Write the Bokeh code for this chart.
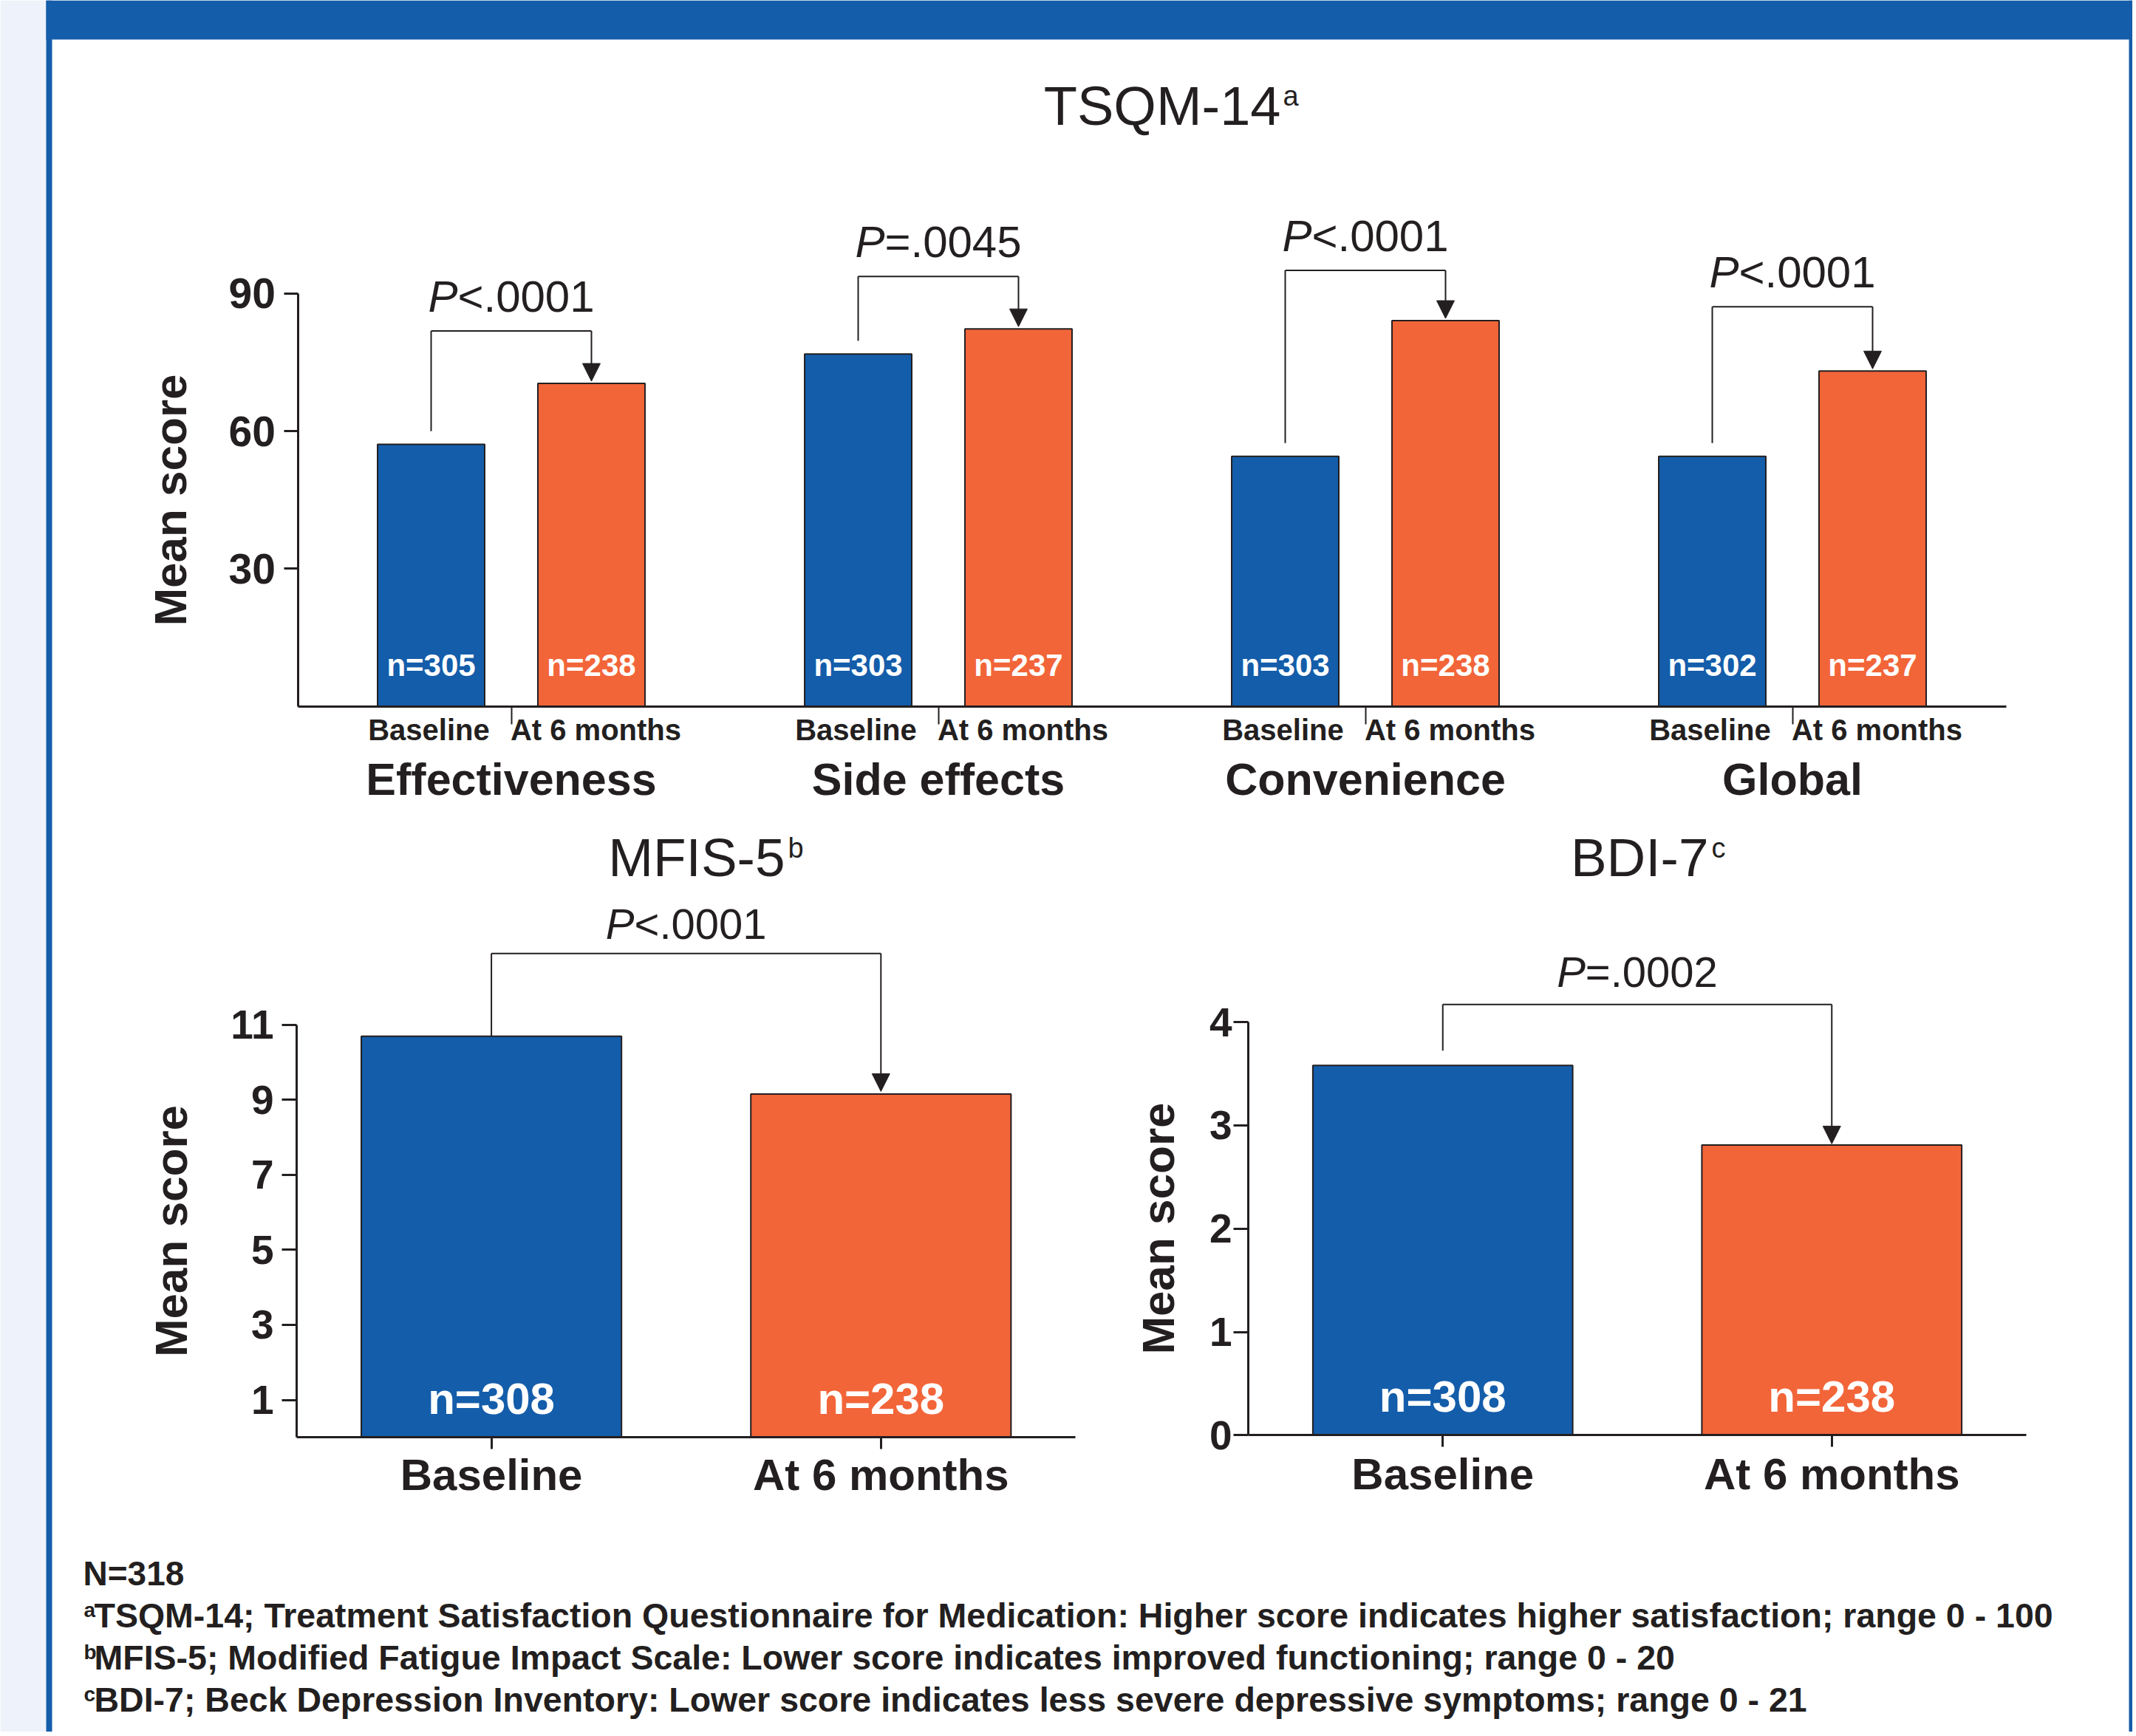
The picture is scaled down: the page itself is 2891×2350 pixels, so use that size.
from bokeh.plotting import figure
from bokeh.models import (ColumnDataSource, LabelSet, Arrow, NormalHead,
                          FixedTicker, Range1d, LinearAxis, BoxAnnotation)
from bokeh.embed import file_html
from bokeh.resources import INLINE
from bokeh.core.properties import value

# ---------------- data ----------------
timepoints = ["Baseline", "At 6 months"]
y_axis_label = "Mean score"

tsqm_title = "TSQM-14"
tsqm_sup = "a"
tsqm_domains = ["Effectiveness", "Side effects", "Convenience", "Global"]
tsqm_baseline = [57.1, 76.8, 54.5, 54.5]
tsqm_6months = [70.4, 82.3, 84.1, 73.1]
tsqm_n_baseline = ["n=305", "n=303", "n=303", "n=302"]
tsqm_n_6months = ["n=238", "n=237", "n=238", "n=237"]
tsqm_p = ["<.0001", "=.0045", "<.0001", "<.0001"]
tsqm_yticks = [30, 60, 90]

mfis_title = "MFIS-5"
mfis_sup = "b"
mfis_values = [10.69, 9.15]
mfis_n = ["n=308", "n=238"]
mfis_p = "<.0001"
mfis_yticks = [1, 3, 5, 7, 9, 11]

bdi_title = "BDI-7"
bdi_sup = "c"
bdi_values = [3.58, 2.81]
bdi_n = ["n=308", "n=238"]
bdi_p = "=.0002"
bdi_yticks = [0, 1, 2, 3, 4]

footnote_total = "N=318"
footnote_marks = ["a", "b", "c"]
footnote_texts = [
    "TSQM-14; Treatment Satisfaction Questionnaire for Medication: Higher score indicates higher satisfaction; range 0 - 100",
    "MFIS-5; Modified Fatigue Impact Scale: Lower score indicates improved functioning; range 0 - 20",
    "BDI-7; Beck Depression Inventory: Lower score indicates less severe depressive symptoms; range 0 - 21",
]

# ---------------- style ----------------
BLUE = "#145DAA"
ORANGE = "#F26539"
INK = "#231F20"
LIGHT = "#EEF2FA"
WHITE = "#FFFFFF"
FONT = "Liberation Sans"

W, H = 2886, 2344   # page canvas in pixels


class Chart:
    """A sub-chart: its own x/y ranges placed on the page canvas."""
    def __init__(self, name, xd0, xp0, xppu, yd0, yp0, yppu):
        self.name = name
        self.xppu, self.yppu = xppu, yppu
        self.xs = xd0 - xp0 / xppu
        self.ys = yd0 - (H - yp0) / yppu
        self.xr = Range1d(self.xs, self.xs + W / xppu)
        self.yr = Range1d(self.ys, self.ys + H / yppu)

    def dx(self, d):
        return d / self.xppu

    def dy(self, d):
        return d / self.yppu

    @property
    def kw(self):
        return dict(x_range_name=self.name, y_range_name=self.name)


def py(ref_y):          # page pixel (from top) -> default y range
    return H - ref_y


c1 = Chart("tsqm", -0.5, 402.5, 578.0, 0, 955.6, 6.208)
c2 = Chart("mfis", 0, 401, 527.2, 0, 1945.3, 50.8)
c3 = Chart("bdi", 0, 1689, 526.5, 0, 1942.4, 139.85)

p = figure(width=W, height=H, x_range=Range1d(0, W), y_range=Range1d(0, H),
           x_axis_type=None, y_axis_type=None, min_border=0,
           output_backend="svg", toolbar_location=None, tools="")
p.extra_x_ranges = {c.name: c.xr for c in (c1, c2, c3)}
p.extra_y_ranges = {c.name: c.yr for c in (c1, c2, c3)}
p.outline_line_color = None
p.background_fill_color = WHITE
p.border_fill_color = WHITE

# ---------------- page decoration ----------------
for l, r, b, t, col in [(0, 62, 0, H, LIGHT), (62, 70, 0, H, BLUE),
                        (62, W, py(53), H, BLUE), (W - 5, W, 0, H, BLUE)]:
    p.add_layout(BoxAnnotation(left=l, right=r, bottom=b, top=t, fill_color=col,
                               fill_alpha=1, line_color=None, level="underlay"))


# ---------------- helpers ----------------
def style_axis(ax, tick_out, font_size, standoff, line=True, ticks=True, tick_width=3):
    ax.axis_line_color = INK if line else None
    ax.axis_line_width = 3
    ax.major_tick_line_color = INK if ticks else None
    ax.major_tick_line_width = tick_width
    ax.major_tick_out = tick_out if ticks else 0
    ax.major_tick_in = 0
    ax.minor_tick_line_color = None
    ax.major_label_text_font = FONT
    ax.major_label_text_font_size = font_size
    ax.major_label_text_font_style = "bold"
    ax.major_label_text_color = INK
    ax.major_label_standoff = standoff


def y_axis(c, loc, bounds, ticks, tick_out, size, standoff, label_standoff):
    ax = LinearAxis(fixed_location=loc, bounds=bounds, ticker=FixedTicker(ticks=ticks), **c.kw)
    style_axis(ax, tick_out, size, standoff)
    ax.axis_label = y_axis_label
    ax.axis_label_text_font = FONT
    ax.axis_label_text_font_size = "62px"
    ax.axis_label_text_font_style = "bold"
    ax.axis_label_text_color = INK
    ax.axis_label_standoff = label_standoff
    p.add_layout(ax, "left")


def x_axis(c, ticks, labels, tick_out, size, standoff, bounds="auto", line=True,
           tick_marks=True, tick_width=3):
    ax = LinearAxis(fixed_location=0, bounds=bounds, ticker=FixedTicker(ticks=ticks), **c.kw)
    style_axis(ax, tick_out, size, standoff, line=line, ticks=tick_marks, tick_width=tick_width)
    ax.major_label_overrides = {t: s for t, s in zip(ticks, labels)}
    p.add_layout(ax, "below")


def add_labels(c, xs, ys, texts, size, color=INK, style="bold", align="center"):
    src = ColumnDataSource(dict(x=list(xs), y=list(ys), text=list(texts)))
    kw = c.kw if c is not None else {}
    p.add_layout(LabelSet(x="x", y="y", text="text", source=src,
                          text_font=value(FONT), text_font_size=value(size),
                          text_font_style=value(style), text_color=value(color),
                          text_align=value(align), text_baseline=value("alphabetic"),
                          **kw))


def add_page_label(x, y, text, size, style="normal", align="left"):
    add_labels(None, [x], [py(y)], [text], size, style=style, align=align)


def add_brackets(c, xl, xr, y_start, y_top, y_tip, head=24):
    legs = ColumnDataSource(dict(
        x0=list(xl) + list(xl), y0=list(y_start) + list(y_top),
        x1=list(xl) + list(xr), y1=list(y_top) + list(y_top)))
    p.add_layout(Arrow(end=None, x_start="x0", y_start="y0", x_end="x1", y_end="y1",
                       source=legs, line_color=INK, line_width=2, **c.kw))
    downs = ColumnDataSource(dict(x0=list(xr), y0=list(y_top), x1=list(xr), y1=list(y_tip)))
    p.add_layout(Arrow(end=NormalHead(size=head, fill_color=INK, line_color=INK, line_width=1),
                       x_start="x0", y_start="y0", x_end="x1", y_end="y1",
                       source=downs, line_color=INK, line_width=2, **c.kw))


def add_p_labels(c, xc, ys, rests, size_px):
    # italic "P" followed by upright remainder; the pair is centred on xc
    shift = c.dx(1.2095 * size_px)
    xj = [x - shift for x in xc]
    add_labels(c, xj, ys, ["P"] * len(xj), f"{size_px}px", style="italic", align="right")
    add_labels(c, xj, ys, rests, f"{size_px}px", style="normal", align="left")


# ---------------- TSQM-14 ----------------
gx = list(range(len(tsqm_domains)))
off, bw = 0.1877, 0.2508
xb = [g - off for g in gx]
xa = [g + off for g in gx]
p.vbar(x=xb, top=tsqm_baseline, width=bw, bottom=0, fill_color=BLUE,
       line_color=INK, line_width=2, **c1.kw)
p.vbar(x=xa, top=tsqm_6months, width=bw, bottom=0, fill_color=ORANGE,
       line_color=INK, line_width=2, **c1.kw)

y_axis(c1, -0.5, (0, 90), tsqm_yticks, 19, "57px", 11, 42)
x_axis(c1, gx, tsqm_domains, 24, "61px", 41, bounds=(-0.5, 3.5), tick_width=2)
# sub-labels sit a few pixels off the bar centres, as in the original
lab_x = [x - c1.dx(3) for x in xb] + [x + c1.dx(6) for x in xa]
x_axis(c1, lab_x, [timepoints[0]] * len(xb) + [timepoints[1]] * len(xa),
       0, "40px", 10, line=False, tick_marks=False)

add_labels(c1, xb + xa, [c1.dy(41.6)] * (len(xb) + len(xa)),
           tsqm_n_baseline + tsqm_n_6months, "42px", color=WHITE)

tsqm_rise_px = [71, 71, 68, 87]
tops = [max(b, a) + c1.dy(r) for b, a, r in zip(tsqm_baseline, tsqm_6months, tsqm_rise_px)]
add_brackets(c1, xb, xa, [b + c1.dy(18) for b in tsqm_baseline], tops,
             [a + c1.dy(3) for a in tsqm_6months])
add_p_labels(c1, gx, [t + c1.dy(26) for t in tops], tsqm_p, 60)

add_page_label(1733, 168, tsqm_title, "74px", align="right")
add_page_label(1736, 142, tsqm_sup, "38px")

# ---------------- MFIS-5 and BDI-7 ----------------
xs2 = [0.5, 1.5]
bar_w2 = 0.668


def small_chart(c, values, yticks, ns, ptxt, title, sup, title_right, tick_standoff,
                lbl_standoff, x_standoff, start_px, rise_px, tip_px, p_gap):
    p.vbar(x=xs2, top=values, width=bar_w2, bottom=0, fill_color=[BLUE, ORANGE],
           line_color=INK, line_width=2, **c.kw)
    y_axis(c, 0, (0, yticks[-1]), yticks, 20, "55px", tick_standoff, lbl_standoff)
    x_axis(c, xs2, timepoints, 16, "60px", x_standoff, bounds=(0, 2))
    add_labels(c, xs2, [c.dy(32)] * 2, ns, "60px", color=WHITE)
    top = max(values) + c.dy(rise_px)
    add_brackets(c, [xs2[0]], [xs2[1]], [values[0] + c.dy(start_px)], [top],
                 [values[1] + c.dy(tip_px)])
    add_p_labels(c, [sum(xs2) / 2], [top + c.dy(p_gap)], [ptxt], 58)
    add_page_label(title_right, 1185, title, "73px", align="right")
    add_page_label(title_right + 4, 1160, sup, "38px")


small_chart(c2, mfis_values, mfis_yticks, mfis_n, mfis_p, mfis_title, mfis_sup, 1062,
            11, 43, 1, 0, 112, 3.5, 20)
small_chart(c3, bdi_values, bdi_yticks, bdi_n, bdi_p, bdi_title, bdi_sup, 2312,
            2, 32, 3, 20, 82.5, 1.5, 24)

# ---------------- footnotes ----------------
add_page_label(112, 2145, footnote_total, "46px", style="bold")
for i, (mark, txt) in enumerate(zip(footnote_marks, footnote_texts)):
    base = 2202 + 57 * i
    add_page_label(113, base - 14, mark, "28px", style="bold")
    add_page_label(127, base, txt, "46.5px", style="bold")

open("out.html", "w").write(file_html(p, INLINE, "TSQM-14, MFIS-5 and BDI-7 mean scores"))
